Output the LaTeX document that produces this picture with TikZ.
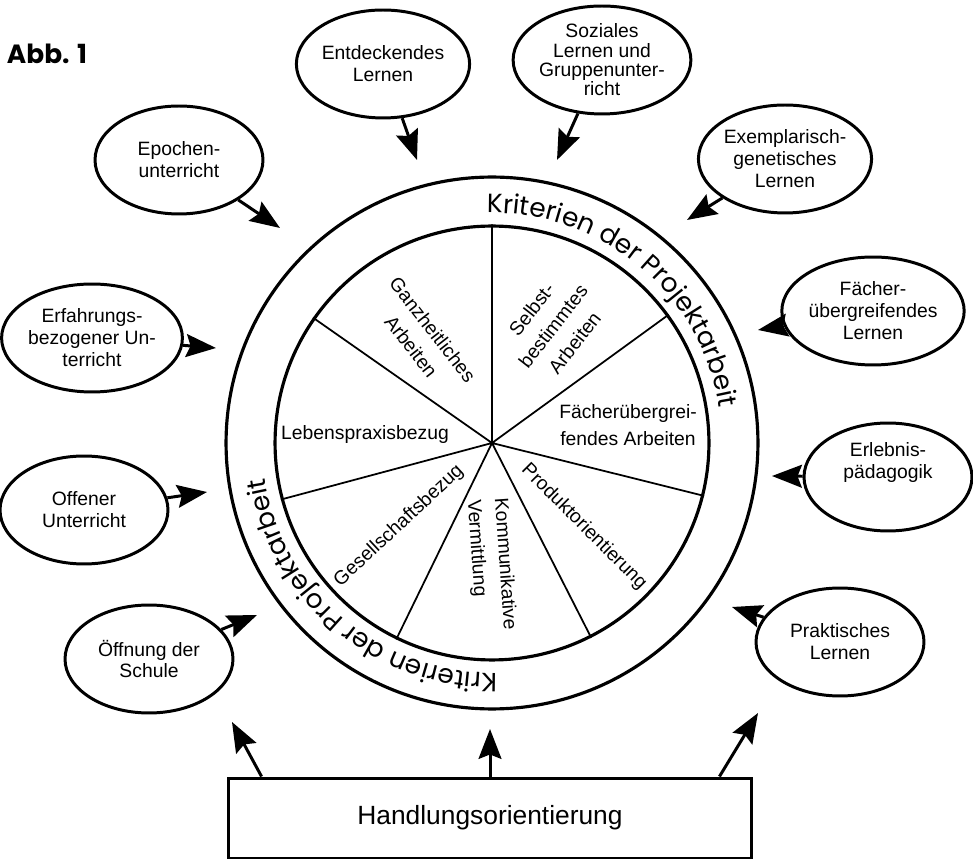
\documentclass[tikz,border=0pt]{standalone}
\usepackage{fontspec}
\setmainfont{Liberation Sans}
\newfontfamily\ringfont{Poppins}
\usetikzlibrary{shapes.geometric, arrows.meta, decorations.text}

\begin{document}
\begin{tikzpicture}[
        x=0.02cm, y=0.02cm,
        % Styles des nœuds
        bulle/.style={ellipse, draw, line width=1.7pt, minimum width=3.36cm, minimum height=2.16cm, inner sep=0pt, align=center, font=\fontsize{11}{12.5}\selectfont},
        secteur/.style={align=center, inner sep=0pt, font=\fontsize{11}{15.5}\selectfont},
        cercle/.style={circle, draw, line width=1.8pt, inner sep=0pt},
        % Style des flèches et des rayons
        fleche/.style={line width=1.7pt, -{Stealth[length=17pt, width=13pt, inset=2.5pt]}},
        rayon/.style={line width=1pt},
        ringtext/.style={decorate, decoration={text along path, text align=center,
            text={|\ringfont\fontsize{15}{15}\selectfont|Kriterien der Projektarbeit}}}
    ]
    \useasboundingbox (0,0) rectangle (973,862);

    \node[font=\ringfont\bfseries\fontsize{15}{15}\selectfont] (abb) at (47,808) {Abb. 1};

    % Cercles et rayons
    \node[cercle, minimum size=10.64cm] (ring) at (492,419) {};
    \node[cercle, minimum size=8.68cm] (wheel) at (492,419) {};
    \draw[rayon] (wheel.center) -- (wheel.90) (wheel.center) -- (wheel.36)
        (wheel.center) -- (wheel.-14) (wheel.center) -- (wheel.-63)
        (wheel.center) -- (wheel.-116) (wheel.center) -- (wheel.-165)
        (wheel.center) -- (wheel.145);

    % Texte de l'anneau
    \path[ringtext] ([shift={(100:230)}]wheel.center) arc[start angle=100, end angle=0, radius=230];
    \path[ringtext] ([shift={(280:230)}]wheel.center) arc[start angle=280, end angle=180, radius=230];

    % Secteurs
    \node[secteur, rotate=-52] (ganz) at (422,524) {Ganzheitliches\\Arbeiten};
    \node[secteur, rotate=52] (selbst) at (553,536) {Selbst-\\bestimmtes\\Arbeiten};
    \node[secteur] (faecher) at (628,437) {Fächerübergrei-\\fendes Arbeiten};
    \node[secteur, rotate=-45] (produkt) at (584,335) {Produktorientierung};
    \node[secteur, rotate=-86, align=left] (komm) at (491,297) {Kommunikative\\Vermittlung};
    \node[secteur, rotate=43] (gesell) at (399,336) {Gesellschaftsbezug};
    \node[secteur] (leben) at (365,427) {Lebenspraxisbezug};

    % Bulles autour
    \node[bulle] (entd) at (383,798) {Entdeckendes\\Lernen};
    \node[bulle] (epoch) at (179,702) {Epochen-\\unterricht};
    \node[bulle, font=\fontsize{11}{11}\selectfont] (sozial) at (602,802) {Soziales\\Lernen und\\Gruppenunter-\\richt};
    \node[bulle] (exempl) at (785,703) {Exemplarisch-\\genetisches\\Lernen};
    \node[bulle] (fuebergr) at (873,551) {Fächer-\\übergreifendes\\Lernen};
    \node[bulle] (erleb) at (888,385) {Erlebnis-\\pädagogik\\[6pt]};
    \node[bulle] (prakt) at (840,220) {Praktisches\\Lernen};
    \node[bulle] (erfahr) at (92,524) {Erfahrungs-\\bezogener Un-\\terricht};
    \node[bulle] (offen) at (84,352) {Offener\\Unterricht};
    \node[bulle] (oeffn) at (149,203) {Öffnung der\\Schule};

    % Pointes des flèches
    \coordinate (pEntd) at (417,702);
    \coordinate (pEpoch) at (280,634);
    \coordinate (pSozial) at (557,702);
    \coordinate (pExempl) at (687,642);
    \coordinate (pFuebergr) at (758,532);
    \coordinate (pErleb) at (772,386);
    \coordinate (pPrakt) at (732,255);
    \coordinate (pErfahr) at (216,514);
    \coordinate (pOffen) at (207,370);
    \coordinate (pOeffn) at (257,247);

    \draw[fleche] (entd) -- (pEntd);
    \draw[fleche] (epoch) -- (pEpoch);
    \draw[fleche] (sozial) -- (pSozial);
    \draw[fleche] (exempl) -- (pExempl);
    \draw[fleche] (fuebergr) -- (pFuebergr);
    \draw[fleche] (erleb) -- (pErleb);
    \draw[fleche] (prakt) -- (pPrakt);
    \draw[fleche] (erfahr) -- (pErfahr);
    \draw[fleche] (offen) -- (pOffen);
    \draw[fleche] (oeffn) -- (pOeffn);

    % Handlungsorientierung
    \node[draw, line width=1.7pt, minimum width=10.48cm, minimum height=1.6cm, font=\fontsize{15}{15}\selectfont] (hand) at (490,44) {Handlungsorientierung};
    \coordinate (pLinks) at (232,140);
    \coordinate (pMitte) at (490,133);
    \coordinate (pRechts) at (758,149);
    \draw[fleche] ([xshift=0.7cm]hand.north west) -- (pLinks);
    \draw[fleche] (hand.north) -- (pMitte);
    \draw[fleche] ([xshift=-0.68cm]hand.north east) -- (pRechts);

    \end{tikzpicture}
\end{document}
